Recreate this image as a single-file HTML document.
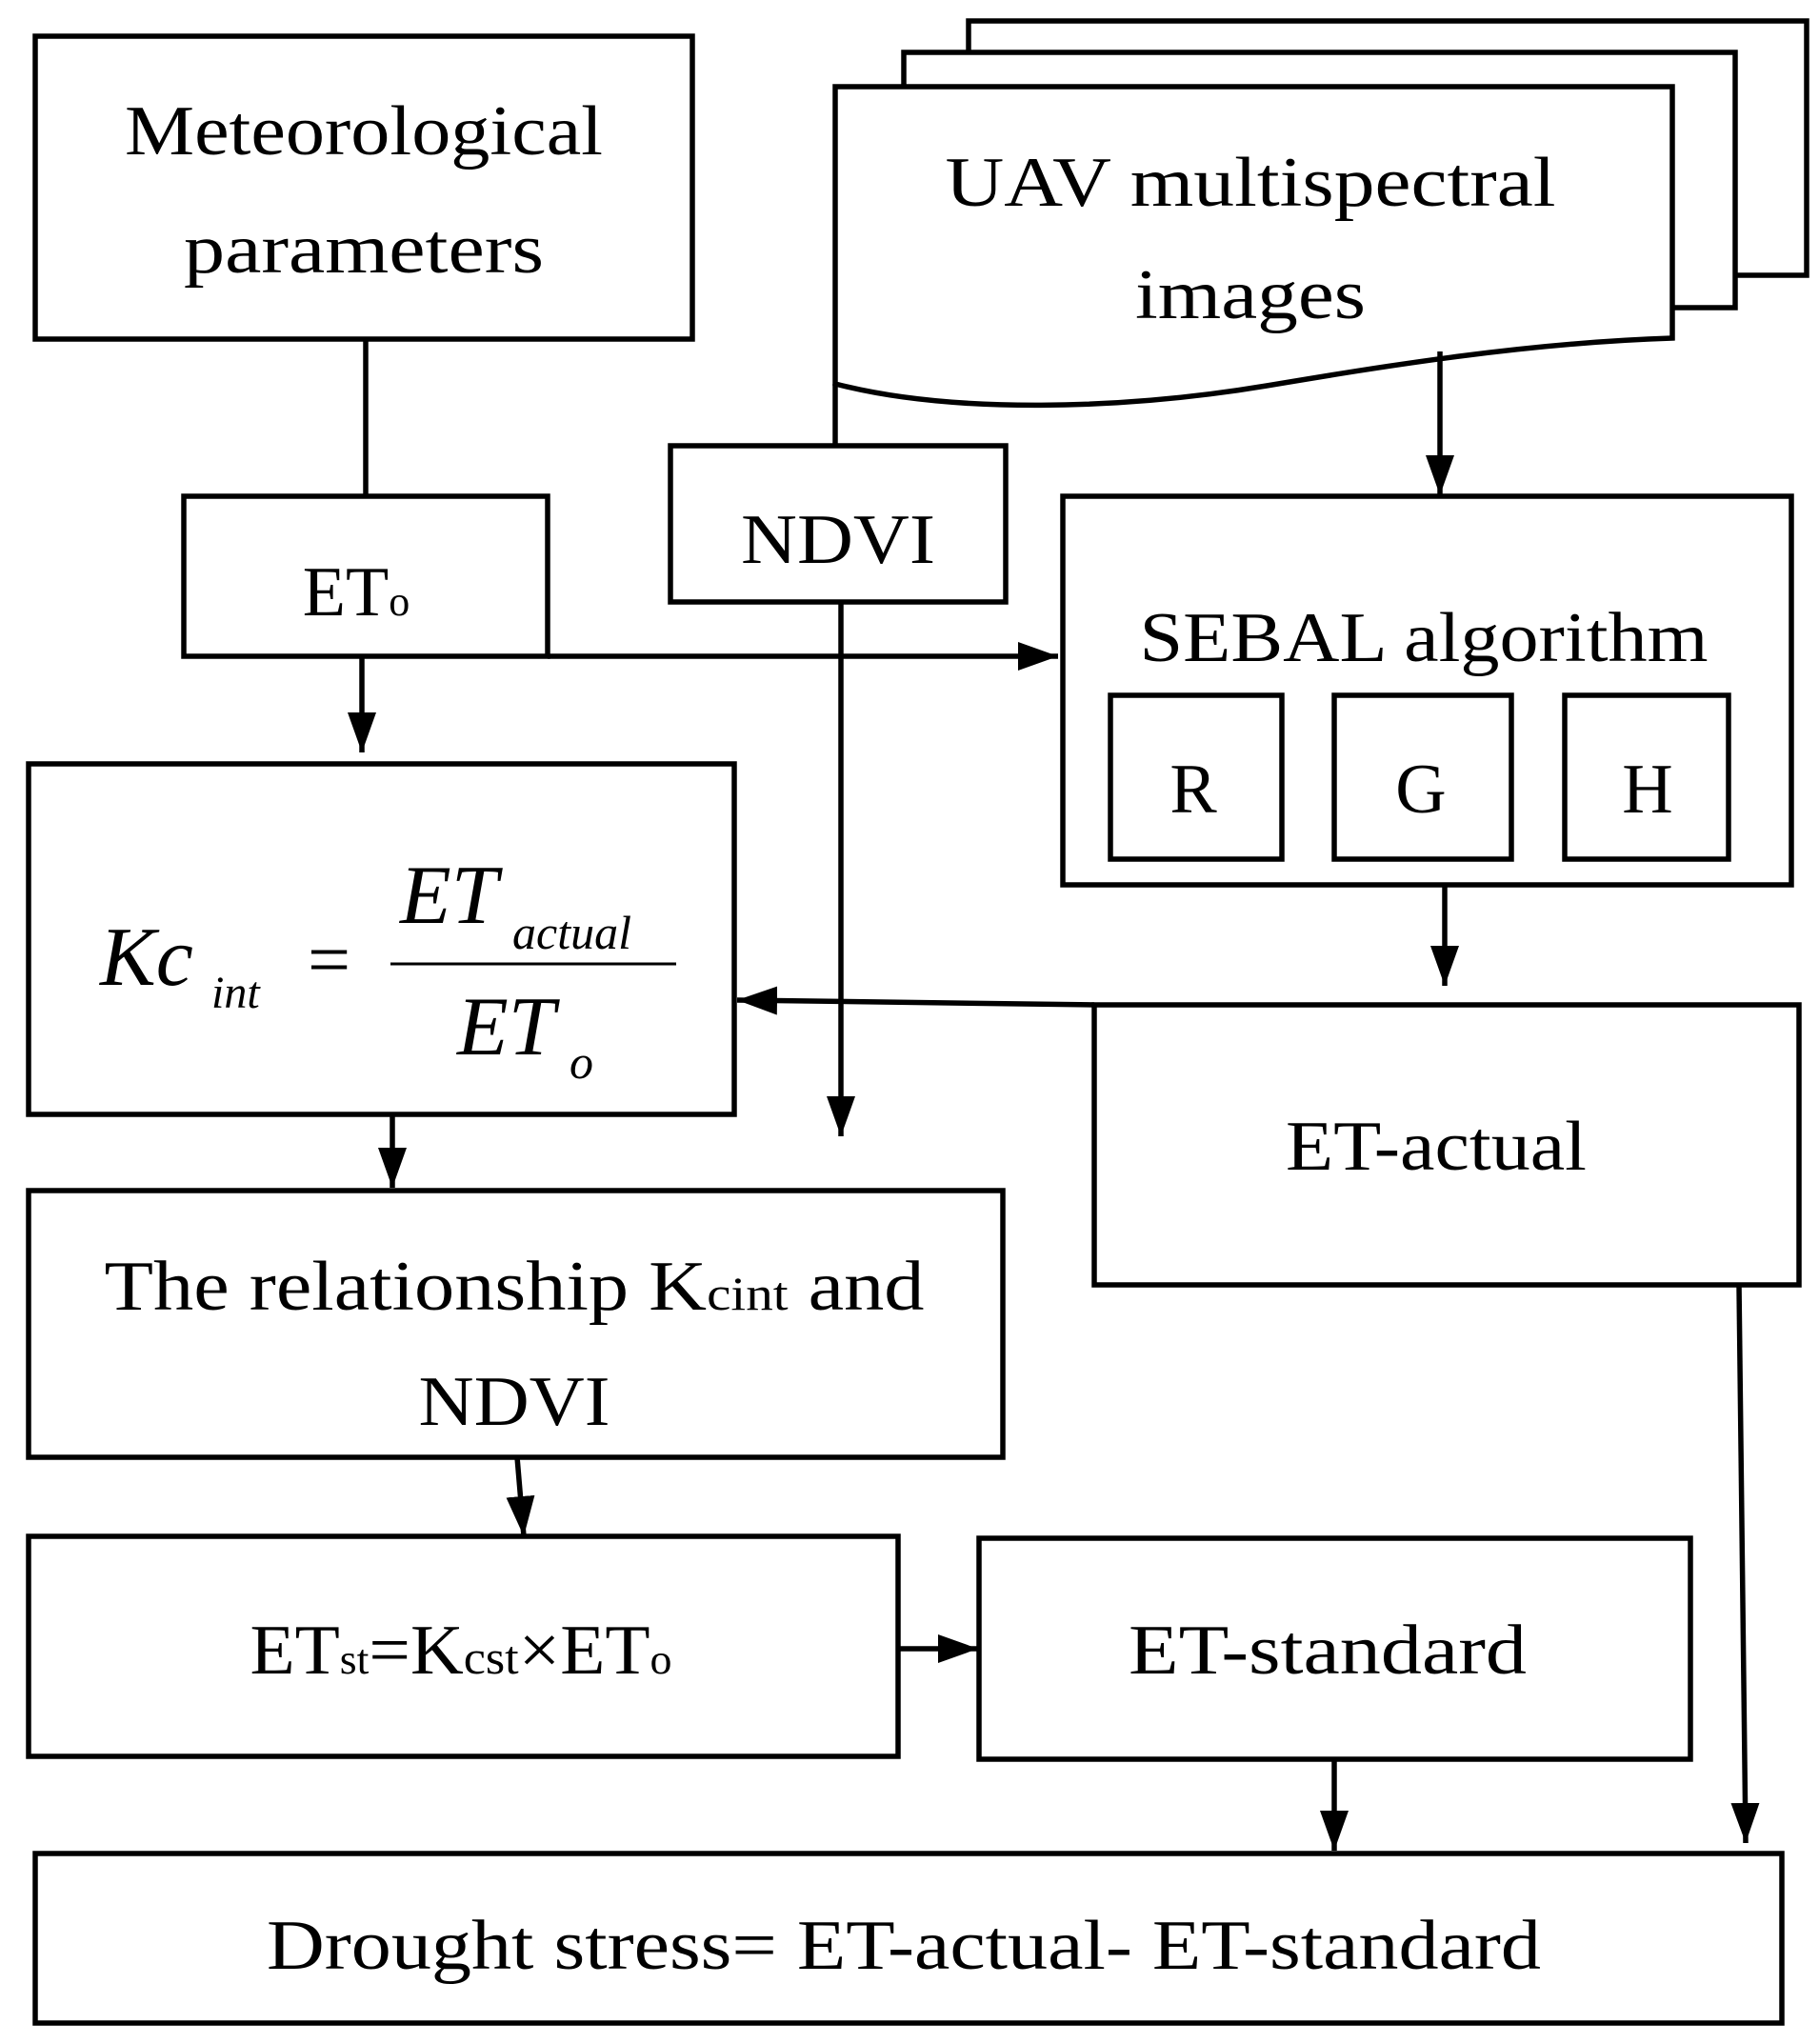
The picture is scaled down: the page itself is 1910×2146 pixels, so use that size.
<!DOCTYPE html>
<html><head><meta charset="utf-8"><style>html,body{margin:0;padding:0;background:#fff}svg{display:block}</style></head>
<body>
<svg width="1910" height="2146" viewBox="0 0 1910 2146" xmlns="http://www.w3.org/2000/svg" font-family="Liberation Serif, serif" fill="none" stroke="#000" stroke-width="5.5">
<defs>
<marker id="a" viewBox="0 0 14 10" refX="14" refY="5" markerWidth="42" markerHeight="30" markerUnits="userSpaceOnUse" orient="auto" preserveAspectRatio="none"><path d="M0,0 L14,5 L0,10 z" fill="#000" stroke="none"/></marker>
</defs>
<!-- boxes -->
<rect x="37" y="38" width="690" height="318"/>
<path d="M1017,55 V22 H1897 V289 H1822"/>
<path d="M949,91 V55 H1822 V323 H1756"/>
<path d="M877,403 V91 H1756 V355 C1600,360 1450,385 1330,405 C1180,430 1000,435 877,403 Z" fill="#fff"/>
<line x1="877" y1="403" x2="877" y2="468"/>
<rect x="704" y="468" width="352" height="164"/>
<rect x="193" y="521" width="382" height="168"/>
<rect x="1116" y="521" width="765" height="408"/>
<rect x="1166" y="730" width="180" height="172"/>
<rect x="1401" y="730" width="186" height="172"/>
<rect x="1643" y="730" width="172" height="172"/>
<rect x="30" y="802" width="741" height="368"/>
<rect x="1149" y="1055" width="740" height="294"/>
<rect x="30" y="1250" width="1023" height="280"/>
<rect x="30" y="1613" width="913" height="231"/>
<rect x="1028" y="1615" width="747" height="232"/>
<rect x="37" y="1946" width="1834" height="178"/>
<!-- connectors -->
<line x1="384" y1="356" x2="384" y2="521"/>
<line x1="380" y1="689" x2="380" y2="790" marker-end="url(#a)"/>
<line x1="575" y1="689" x2="1111" y2="689" marker-end="url(#a)"/>
<line x1="1512" y1="369" x2="1512" y2="520" marker-end="url(#a)"/>
<line x1="883" y1="632" x2="883" y2="1193" marker-end="url(#a)"/>
<line x1="1517" y1="929" x2="1517" y2="1035" marker-end="url(#a)"/>
<line x1="1149" y1="1055" x2="774" y2="1050" marker-end="url(#a)"/>
<line x1="412" y1="1170" x2="412" y2="1247" marker-end="url(#a)"/>
<line x1="543" y1="1530" x2="550" y2="1613" marker-end="url(#a)"/>
<line x1="943" y1="1731" x2="1027" y2="1731" marker-end="url(#a)"/>
<line x1="1401" y1="1847" x2="1401" y2="1943" marker-end="url(#a)"/>
<line x1="1826" y1="1349" x2="1833" y2="1935" marker-end="url(#a)"/>
<!-- text -->
<g fill="#000" stroke="none" font-size="74" text-anchor="middle">
<text x="382" y="162" textLength="502" lengthAdjust="spacingAndGlyphs">Meteorological</text>
<text x="382" y="286" textLength="378" lengthAdjust="spacingAndGlyphs">parameters</text>
<text x="1313" y="216" textLength="641" lengthAdjust="spacingAndGlyphs">UAV multispectral</text>
<text x="1313" y="334" textLength="242" lengthAdjust="spacingAndGlyphs">images</text>
<text x="374" y="646">ET<tspan font-size="44">o</tspan></text>
<text x="880" y="591" textLength="204" lengthAdjust="spacingAndGlyphs">NDVI</text>
<text x="1495" y="694" textLength="597" lengthAdjust="spacingAndGlyphs">SEBAL algorithm</text>
<text x="1253" y="853">R</text>
<text x="1492" y="853">G</text>
<text x="1730" y="853">H</text>
<text x="1508" y="1228" textLength="316" lengthAdjust="spacingAndGlyphs">ET-actual</text>
<text x="540" y="1375" textLength="861" lengthAdjust="spacingAndGlyphs">The relationship K<tspan font-size="50">cint</tspan> and</text>
<text x="540" y="1496" textLength="201" lengthAdjust="spacingAndGlyphs">NDVI</text>
<text x="484" y="1757" textLength="443" lengthAdjust="spacingAndGlyphs">ET<tspan font-size="44">st</tspan>=K<tspan font-size="50">cst</tspan>×ET<tspan font-size="44">o</tspan></text>
<text x="1394" y="1757" textLength="418" lengthAdjust="spacingAndGlyphs">ET-standard</text>
<text x="949" y="2067" textLength="1338" lengthAdjust="spacingAndGlyphs">Drought stress= ET-actual- ET-standard</text>
</g>
<g fill="#000" stroke="none" font-style="italic">
<text x="105" y="1034" font-size="88">Kc</text>
<text x="222" y="1058" font-size="48">int</text>
<text x="323" y="1034" font-size="80" font-style="normal">=</text>
<text x="420" y="969" font-size="88">ET</text>
<text x="538" y="996" font-size="50">actual</text>
<text x="480" y="1107" font-size="88">ET</text>
<text x="598" y="1132" font-size="50">o</text>
</g>
<line x1="410" y1="1012" x2="710" y2="1012" stroke-width="3"/>
</svg>
</body></html>
